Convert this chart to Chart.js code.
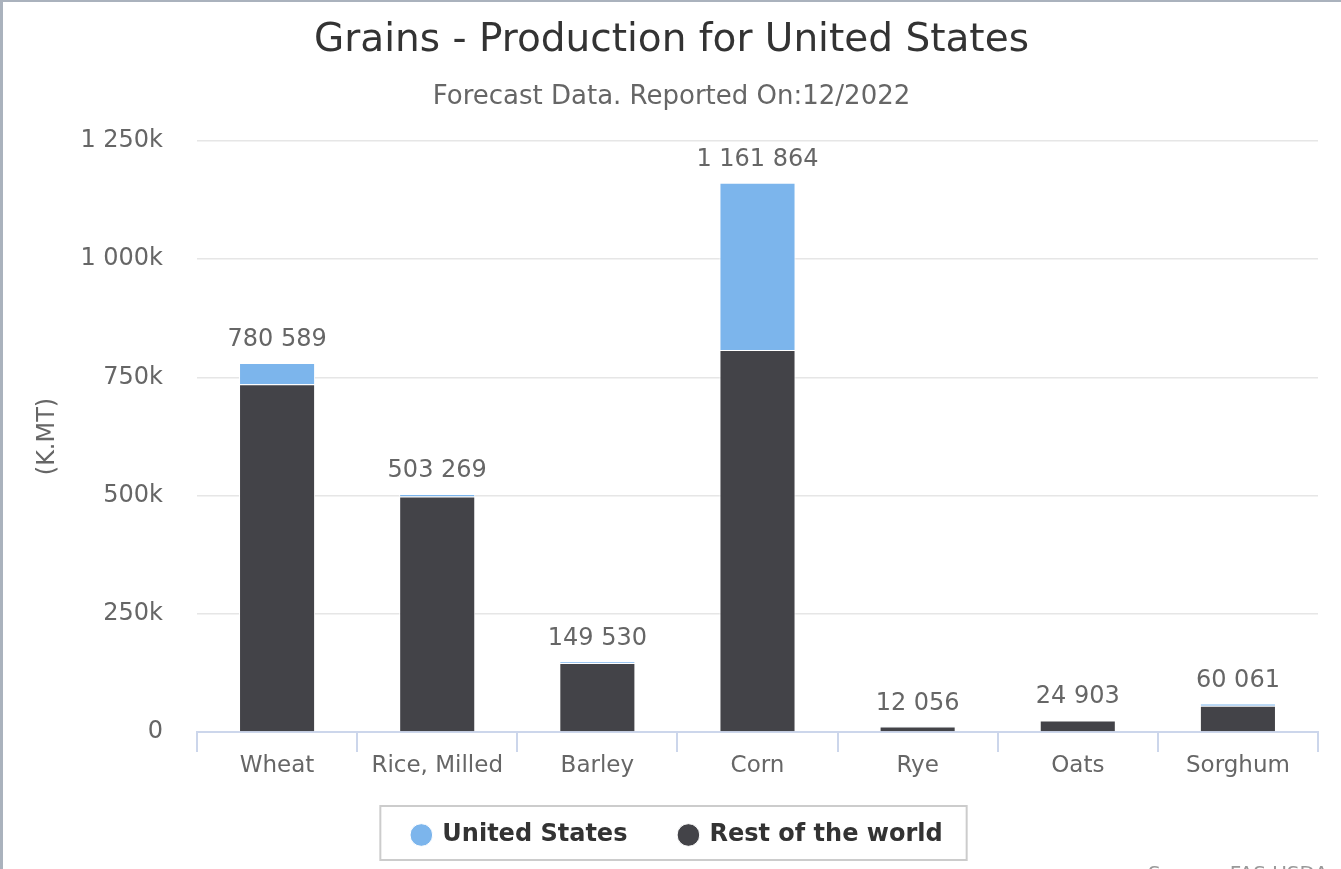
<!DOCTYPE html>
<html>
<head>
<meta charset="utf-8">
<title>Grains - Production for United States</title>
<script src="https://cdn.jsdelivr.net/npm/chart.js@4.4.1/dist/chart.umd.min.js"></script>
<style>
    html, body { margin: 0; padding: 0; background: #fff; overflow: hidden; }
    #wrap {
        width: 1338px;
        height: 867px;
        border-left: 3px solid #aab2bd;
        border-top: 2px solid #aab2bd;
        position: relative;
    }
    canvas { display: block; }
</style>
</head>
<body>
<div id="wrap"><canvas id="grainChart" width="1338" height="867"></canvas></div>
<script>
// Production, thousand metric tons
const categories = ["Wheat", "Rice, Milled", "Barley", "Corn", "Rye", "Oats", "Sorghum"];
const usProduction = [44902, 5087, 3782, 353836, 297, 839, 4763];
const restOfWorld = [735687, 498182, 145748, 808028, 11759, 24064, 55298];
const yTicks = [0, 250000, 500000, 750000, 1000000, 1250000];

const FONT = "'DejaVu Sans', Verdana, sans-serif";

function spaced(n) {
    return String(Math.round(n)).replace(/\B(?=(\d{3})+(?!\d))/g, " ");
}

// Totals above each stacked column
const totalLabels = {
    id: "totalLabels",
    afterDatasetsDraw(chart) {
        const ctx = chart.ctx;
        const y = chart.scales.y;
        const meta = chart.getDatasetMeta(0);
        ctx.save();
        ctx.font = "24px " + FONT;
        ctx.fillStyle = "#666666";
        ctx.textAlign = "center";
        ctx.textBaseline = "middle";
        categories.forEach((c, i) => {
            const total = usProduction[i] + restOfWorld[i];
            ctx.fillText(spaced(total), meta.data[i].x, y.getPixelForValue(total) - 23);
        });
        ctx.restore();
    }
};

// Legend sits a little higher and to the right of where the layout puts it
const legendNudge = {
    id: "legendNudge",
    afterLayout(chart) {
        const lg = chart.legend;
        lg.top -= 9;
        lg.bottom -= 9;
        lg.left += 6;
        lg.right += 6;
    }
};

// Border round the legend and the source note
const legendFrame = {
    id: "legendFrame",
    afterDraw(chart) {
        const ctx = chart.ctx;
        const boxes = chart.legend.legendHitBoxes;
        if (boxes && boxes.length) {
            const left = Math.min(...boxes.map(b => b.left)) - 32;
            const right = Math.max(...boxes.map(b => b.left + b.width)) + 24;
            const mid = boxes[0].top + boxes[0].height / 2;
            ctx.save();
            ctx.strokeStyle = "#cccccc";
            ctx.lineWidth = 2;
            ctx.strokeRect(left, mid - 29, right - left, 54);
            ctx.restore();
        }
        ctx.save();
        ctx.font = "20px " + FONT;
        ctx.fillStyle = "#999999";
        ctx.textAlign = "left";
        ctx.textBaseline = "top";
        ctx.fillText("Source: FAS USDA", 1145, 863);
        ctx.restore();
    }
};

const chart = new Chart(document.getElementById("grainChart"), {
    type: "bar",
    data: {
        labels: categories,
        datasets: [
            {
                label: "Rest of the world",
                data: restOfWorld,
                backgroundColor: "#434348",
                borderColor: "#ffffff",
                borderWidth: 1
            },
            {
                label: "United States",
                data: usProduction,
                backgroundColor: "#7cb5ec",
                borderColor: "#ffffff",
                borderWidth: 1
            }
        ]
    },
    options: {
        responsive: false,
        animation: false,
        layout: { padding: { left: 22, right: 23, top: 0, bottom: 3 } },
        datasets: {
            bar: { categoryPercentage: 1, barPercentage: 0.475 }
        },
        plugins: {
            title: {
                display: true,
                text: "Grains - Production for United States",
                color: "#333333",
                font: { family: FONT, size: 39, weight: "normal" },
                padding: { top: 15, bottom: 0 }
            },
            subtitle: {
                display: true,
                text: "Forecast Data. Reported On:12/2022",
                color: "#666666",
                font: { family: FONT, size: 26, weight: "normal" },
                padding: { top: 18, bottom: 28 }
            },
            legend: {
                position: "bottom",
                reverse: true,
                labels: {
                    usePointStyle: true,
                    pointStyle: "circle",
                    boxWidth: 18,
                    boxHeight: 16,
                    padding: 52,
                    color: "#333333",
                    font: { family: FONT, size: 24, weight: "bold" }
                }
            },
            tooltip: { enabled: false }
        },
        scales: {
            x: {
                stacked: true,
                afterFit(scale) { scale.height = 48; },
                grid: {
                    offset: true,
                    drawOnChartArea: false,
                    drawTicks: true,
                    tickLength: 20,
                    color: "#ccd6eb",
                    lineWidth: 2
                },
                border: { display: true, color: "#ccd6eb", width: 2 },
                ticks: {
                    color: "#666666",
                    padding: 0,
                    maxRotation: 0,
                    font: { family: FONT, size: 23 }
                }
            },
            y: {
                stacked: true,
                min: 0,
                max: 1250000,
                afterFit(scale) { scale.width = 172; },
                afterBuildTicks(scale) { scale.ticks = yTicks.map(v => ({ value: v })); },
                grid: { color: "#e6e6e6", lineWidth: 1.5, drawTicks: false },
                border: { display: false },
                ticks: {
                    color: "#666666",
                    padding: 34,
                    font: { family: FONT, size: 24 },
                    callback: v => v === 0 ? "0" : spaced(v / 1000) + "k"
                },
                title: {
                    display: true,
                    text: "(K.MT)",
                    color: "#666666",
                    font: { family: FONT, size: 24 },
                    padding: { top: 8, bottom: 0 }
                }
            }
        }
    },
    plugins: [legendNudge, totalLabels, legendFrame]
});
</script>
</body>
</html>
